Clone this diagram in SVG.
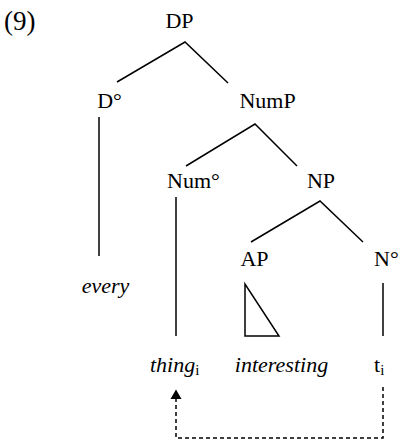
<svg xmlns="http://www.w3.org/2000/svg" width="399" height="442" viewBox="0 0 399 442">
<defs>
<style>
.c{text-anchor:middle}
.i{font-style:italic}
.sub{font-size:15px;font-style:normal}
.e{stroke:#000;stroke-width:1.5;fill:none}
.d{stroke:#000;stroke-width:1.5;fill:none;stroke-dasharray:4 3}
</style>
</defs>
<rect width="399" height="442" fill="#fff"/>
<g font-family="Liberation Serif, Times New Roman, serif" font-size="22" fill="#000">
<text x="4" y="30" font-size="27">(9)</text>
<g id="connectors">
<path class="e" d="M117,82 L185,42 L228,83"/>
<path class="e" d="M99,117 V256"/>
<path class="e" d="M186,166 L255,124 L297,166"/>
<path class="e" d="M176,197 V336"/>
<path class="e" d="M251,242 L320,201 L363,242"/>
<path class="e" d="M383,283 V336"/>
<path class="e" d="M245,284 V336 H279 Z"/>
<path class="d" d="M383,387 V438 H176 V398"/>
<path d="M176,389.5 L170.5,399 L181.5,399 Z" fill="#000"/>
</g>
<g id="DP"><text class="c" x="179.5" y="28">DP</text></g>
<g id="D"><text class="c" x="109.5" y="108">D°</text></g>
<g id="NumP"><text class="c" x="267.5" y="108">NumP</text></g>
<g id="Num"><text class="c" x="193.5" y="187.5">Num°</text></g>
<g id="NP"><text class="c" x="321" y="187.5">NP</text></g>
<g id="AP"><text class="c" x="254.5" y="266">AP</text></g>
<g id="N"><text x="374" y="266">N°</text></g>
<g id="every"><text class="c i" x="105.5" y="293">every</text></g>
<g id="thing"><text x="150" y="372"><tspan class="i">thing</tspan><tspan class="sub" dy="3">i</tspan></text></g>
<g id="interesting"><text class="c i" x="281.5" y="372">interesting</text></g>
<g id="t"><text x="374" y="372">t<tspan class="sub" dy="3">i</tspan></text></g>
</g>
</svg>
